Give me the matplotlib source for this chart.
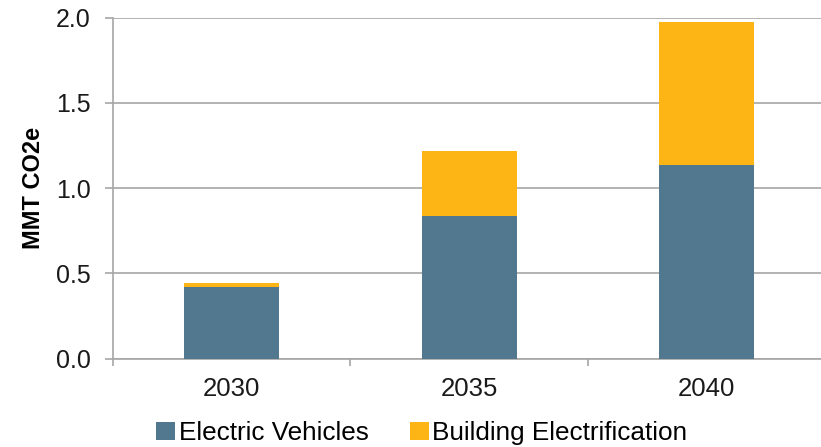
import matplotlib.pyplot as plt
from matplotlib.ticker import FixedLocator, MultipleLocator

plt.rcParams['font.family'] = ['Liberation Sans', 'DejaVu Sans']

years = ['2030', '2035', '2040']
electric_vehicles = [0.419, 0.835, 1.136]
building_electrification = [0.027, 0.383, 0.839]

ev_color = '#51788F'
bldg_color = '#FDB515'
grid_color = '#A6A6A6'

fig = plt.figure(figsize=(8.21, 4.47), dpi=100)
ax = fig.add_axes([0.1373, 0.1975, 0.868, 0.7629])

x = range(len(years))
ax.bar(x, electric_vehicles, width=0.4, color=ev_color, label='Electric Vehicles', zorder=3)
ax.bar(x, building_electrification, width=0.4, bottom=electric_vehicles,
       color=bldg_color, label='Building Electrification', zorder=3)

ax.set_xlim(-0.5, 2.5)
ax.set_ylim(0, 2.0)
ax.yaxis.set_major_locator(MultipleLocator(0.5))
ax.yaxis.set_major_formatter(plt.FuncFormatter(lambda v, p: f'{v:.1f}'))
ax.set_xticks(list(x))
ax.set_xticklabels(years)
ax.xaxis.set_minor_locator(FixedLocator([-0.5, 0.5, 1.5, 2.5]))

ax.grid(axis='y', color=grid_color, linewidth=1.2, zorder=0)
for side in ['top', 'right']:
    ax.spines[side].set_visible(False)
for side in ['left', 'bottom']:
    ax.spines[side].set_color(grid_color)
    ax.spines[side].set_linewidth(1.2)

ax.tick_params(axis='y', length=5.8, width=1.2, color=grid_color, labelsize=18,
               labelcolor='#1a1a1a', pad=10)
ax.tick_params(axis='x', which='major', length=0, labelsize=18.5, labelcolor='#1a1a1a', pad=13)
ax.tick_params(axis='x', which='minor', length=5, width=1.2, color=grid_color)

ax.set_ylabel('MMT CO2e', fontsize=17, fontweight='bold', labelpad=8)

fig.legend(*ax.get_legend_handles_labels(), loc='center', bbox_to_anchor=(0.514, 0.031),
           ncol=2, frameon=False, fontsize=18.8, handlelength=0.7, handleheight=0.7,
           handletextpad=0.15, columnspacing=1.6, borderaxespad=0, borderpad=0)

plt.savefig('out.png', dpi=100)
